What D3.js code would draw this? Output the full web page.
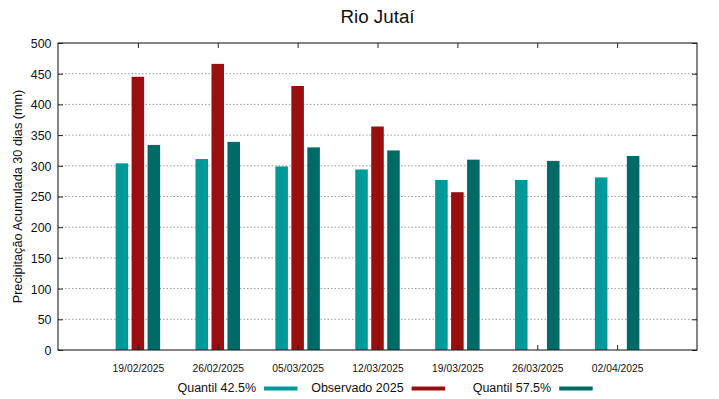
<!DOCTYPE html>
<html>
<head>
<meta charset="utf-8">
<script src="https://cdn.jsdelivr.net/npm/d3@7"></script>
<style>
  body { margin: 0; background: #fff; }
  svg { display: block; font-family: "Liberation Sans", Arial, sans-serif; }
</style>
</head>
<body>
<svg width="719" height="399"></svg>
<script>
// data
const dates = ['19/02/2025','26/02/2025','05/03/2025','12/03/2025','19/03/2025','26/03/2025','02/04/2025'];
const quantil425 = [304, 311, 299, 294, 277, 277, 281];
const observado2025 = [445, 466, 430, 364, 257, null, null];
const quantil575 = [334, 339, 330, 325, 310, 308, 316];
const yTicks = [0, 50, 100, 150, 200, 250, 300, 350, 400, 450, 500];
const seriesNames = ['Quantil 42.5%', 'Observado 2025', 'Quantil 57.5%'];

const svg = d3.select('svg');
const width = +svg.attr('width');
const height = +svg.attr('height');

//plot frame
const margin = {top:43, right:22, bottom:49, left:58};
const innerWidth = width - margin.left - margin.right;
const innerHeight = height - margin.top - margin.bottom;

const colors = ['#009999', '#990e0e', '#006a66'];
const series = [quantil425, observado2025, quantil575];

const g = svg.append('g')
  .attr('transform', `translate(${margin.left},${margin.top})`);

//x in category units (gnuplot style range -1..n)
const xScale = d3.scaleLinear()
  .domain([-1, dates.length])
  .range([0, innerWidth]);

const yScale = d3.scaleLinear()
  .domain([0, 500])
  .range([innerHeight, 0]);

//dotted grid
g.selectAll('.grid')
  .data(yTicks.filter(t => t > 0 && t < 500))
  .enter().append('line')
  .attr('class', 'grid')
  .attr('x1', 0).attr('x2', innerWidth)
  .attr('y1', d => yScale(d)).attr('y2', d => yScale(d))
  .attr('stroke', '#9a9a9a')
  .attr('stroke-width', 1)
  .attr('stroke-dasharray', '1.5,2');

//bars
const offsets = [-0.2, 0, 0.2];
const barW = 0.157;
series.forEach((vals, s) => {
  g.append('g').selectAll('rect')
    .data(vals.map((v, i) => ({i, v})).filter(d => d.v != null))
    .enter().append('rect')
    .attr('x', d => xScale(d.i + offsets[s] - barW / 2))
    .attr('width', xScale(barW) - xScale(0))
    .attr('y', d => yScale(d.v))
    .attr('height', d => yScale(0) - yScale(d.v))
    .attr('fill', colors[s]);
});

//axes, ticks pointing inward
const yAxis = d3.axisLeft(yScale).tickValues(yTicks).tickSize(-5).tickPadding(6.5);
const yAxisR = d3.axisRight(yScale).tickValues(yTicks).tickSize(-5);
const xAxis = d3.axisBottom(xScale).tickValues(d3.range(dates.length))
  .tickFormat(i => dates[i]).tickSize(-5).tickPadding(14);
const xAxisT = d3.axisTop(xScale).tickValues(d3.range(dates.length)).tickSize(-5);

g.append('g').call(yAxis)
  .selectAll('text').attr('font-size', '12.4px')
  .attr('dy', null).attr('y', 4.4);
g.append('g').attr('class', 'mirror').attr('transform', `translate(${innerWidth},0)`).call(yAxisR);
g.append('g').attr('transform', `translate(0,${innerHeight})`).call(xAxis)
  .selectAll('text').attr('font-size', '10.3px')
  .attr('dy', null).attr('y', 21.5);
g.append('g').attr('class', 'mirror').call(xAxisT);

//mirrored axes carry no labels
g.selectAll('.mirror .tick text').remove();
g.selectAll('.domain').remove();
g.selectAll('.tick line').attr('stroke', '#222');
g.selectAll('.tick text').attr('fill', '#111').style('font-family', '"Liberation Sans", Arial, sans-serif');

//frame
g.append('rect')
  .attr('width', innerWidth).attr('height', innerHeight)
  .attr('fill', 'none').attr('stroke', '#222').attr('stroke-width', 1.1);

//title
svg.append('text')
  .text('Rio Jutaí')
  .attr('x', margin.left + innerWidth / 2)
  .attr('y', 23)
  .attr('text-anchor', 'middle')
  .attr('font-size', '18.8px')
  .attr('fill', '#111');

//y label
svg.append('text')
  .text('Precipitação Acumulada 30 dias (mm)')
  .attr('transform', `translate(21.5,${margin.top + innerHeight / 2}) rotate(-90)`)
  .attr('text-anchor', 'middle')
  .attr('font-size', '12.7px')
  .attr('fill', '#111');

//legend
const legend = svg.append('g').attr('transform', 'translate(264,0)');
seriesNames.forEach((name, s) => {
  const lg = legend.append('g').attr('transform', `translate(${s * 147.6},0)`);
  lg.append('text')
    .text(name)
    .attr('x', -8).attr('y', 391.5)
    .attr('text-anchor', 'end')
    .attr('font-size', '12.5px')
    .attr('fill', '#111');
  lg.append('rect')
    .attr('x', 0).attr('y', 386.5)
    .attr('width', 33.5).attr('height', 4)
    .attr('fill', colors[s]);
});
</script>
</body>
</html>
